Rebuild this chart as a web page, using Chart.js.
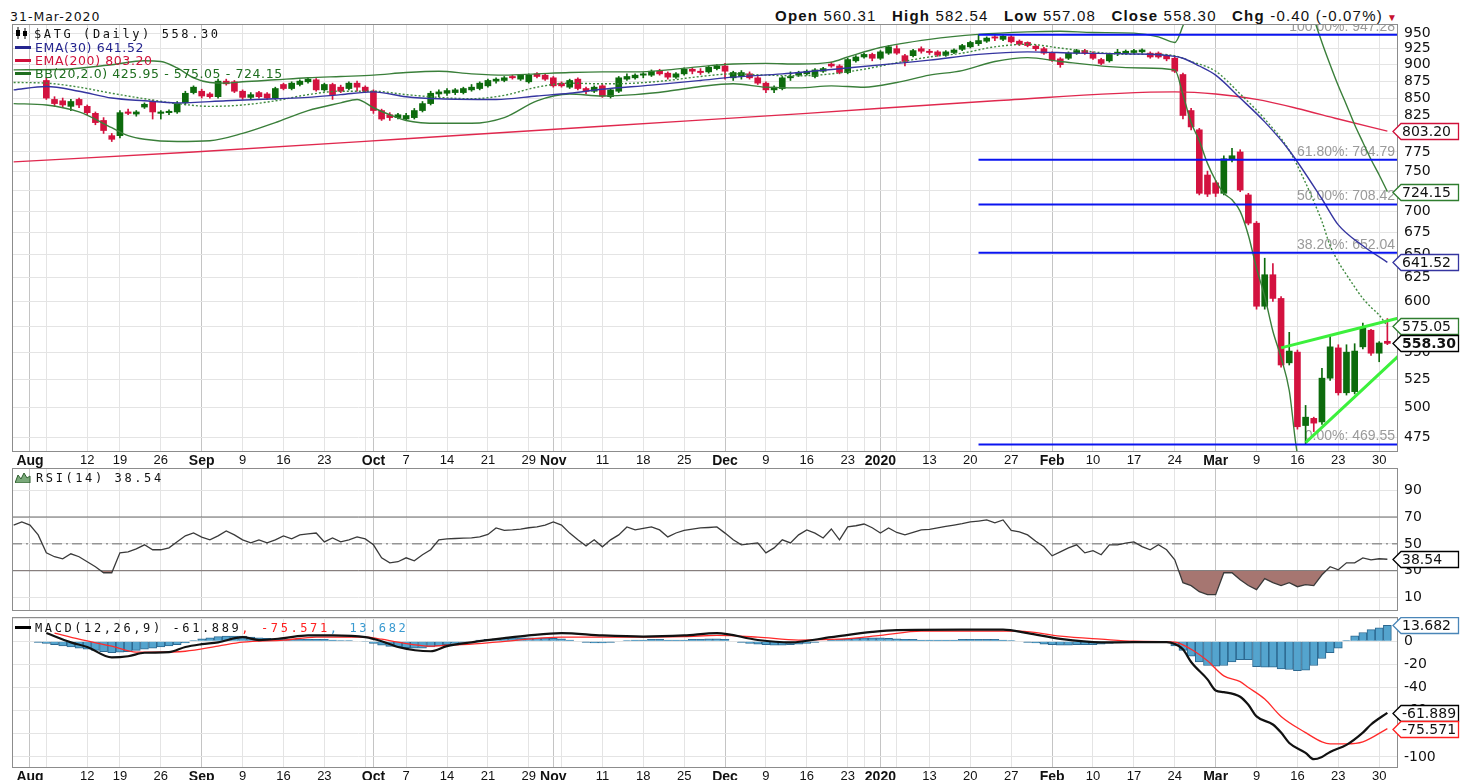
<!DOCTYPE html>
<html lang="en">
<head>
<meta charset="UTF-8">
<title>$ATG (Daily)</title>
<script src="https://cdn.jsdelivr.net/npm/chart.js"></script>
<style>
    body { margin: 0; background: #fff; }
    #page { position: relative; width: 1460px; height: 780px; overflow: hidden; color: #111; }
    #page canvas { position: absolute; left: 0; }
    .txt { position: absolute; white-space: nowrap; line-height: 13px; }
    .mono { font: 12px 'DejaVu Sans Mono', monospace; letter-spacing: 2.6px; }
    .prop { font: 12.5px 'DejaVu Sans', sans-serif; letter-spacing: 0.6px; }
    .dash { display: inline-block; width: 16px; height: 3px; vertical-align: middle; margin: -2px 4px 0 0; }
    svg { vertical-align: middle; margin: -3px 5px 0 0; }
    #stamp { font: 12.5px 'DejaVu Sans', sans-serif; letter-spacing: 1px; left: 10px; top: 9px; }
    #ohlc { font: 15px 'Liberation Sans', Arial, sans-serif; letter-spacing: 1.2px; right: 62px; top: 8px; line-height: 15px; }
    #ohlc b { margin-left: 10px; }
    #ohlc .tri { color: #c8102e; font-size: 10px; margin-left: 4px; }
</style>
</head>
<body>
<div id="page">
    <div class="txt" id="stamp">31-Mar-2020</div>
    <div class="txt" id="ohlc"><b>Open</b> 560.31 <b>High</b> 582.54 <b>Low</b> 557.08 <b>Close</b> 558.30 <b>Chg</b> -0.40 (-0.07%)<span class="tri">&#9660;</span></div>

    <canvas id="priceChart" width="1460" height="444" style="top:24px"></canvas>
    <canvas id="rsiChart" width="1460" height="143" style="top:468px"></canvas>
    <canvas id="macdChart" width="1460" height="163" style="top:617px"></canvas>

    <!-- legends -->
    <div class="txt mono" style="left:15px; top:27px"><svg width="14" height="12" viewBox="0 0 14 12"><path d="M3 0v12M10 1v11" stroke="#000"/><rect x="1" y="3" width="4" height="6"/><rect x="8" y="4" width="4" height="5"/></svg>$ATG (Daily) 558.30</div>
    <div class="txt prop" style="left:15px; top:40px; color:#25258f"><span class="dash" style="background:#25258f"></span>EMA(30) 641.52</div>
    <div class="txt prop" style="left:15px; top:53px; color:#d0103a"><span class="dash" style="background:#d0103a"></span>EMA(200) 803.20</div>
    <div class="txt prop" style="left:15px; top:66px; color:#1f6e1f"><span class="dash" style="background:#1f6e1f"></span>BB(20,2.0) 425.95 - 575.05 - 724.15</div>
    <div class="txt mono" style="left:15px; top:471px"><svg width="16" height="12" viewBox="0 0 16 12"><path d="M0 12L3 4L6 8L9 2L12 7L15 5L15 12Z" fill="#7aa97a" stroke="#2f5f2f"/></svg>RSI(14) 38.54</div>
    <div class="txt mono" style="left:15px; top:621px"><span class="dash" style="background:#000"></span>MACD(12,26,9) -61.889<span style="color:#ff2020">, -75.571</span><span style="color:#3a9ad0">, 13.682</span></div>
</div>

<script>
    // ---- calendar: Athens trading days 30 Jul 2019 .. 31 Mar 2020 ----
    const holidays = ['2019-08-15', '2019-10-28', '2019-12-24', '2019-12-25', '2019-12-26', '2020-01-01', '2020-01-06'];
    const monthLabels = ['2020', 'Feb', 'Mar', 'Apr', 'May', 'Jun', 'Jul', 'Aug', 'Sep', 'Oct', 'Nov', 'Dec'];

    // ---- daily candles (index = trading day, null = no bar) ----
    const open = [null, null, null, null,
        876, 848, 846, 838, 848,  838, 828, 818, 797,  797, 830, 827, 837, 845,  828, 829, 830, 843, 858,
        860, 856, 852, 875, 874,  860, 851, 858, 856, 850,  870, 864, 870, 874, 877,  862, 870, 866, 864, 872, 866,
        860, 832, 826, 822,  820, 822, 832, 842, 856,  857, 858, 858, 862, 864,  868, 875, 876, 882, 878,
        874, 886, 884, 880,  872, 866, 878, 864, 860,  868, 852, 860, 878, 880,  884, 884, 890, 887, 881,
        886, 893, 890, 889, 894,  898, 880, 882, 886, 880,  872, 862, 864, 880, 884,  886, 882, 890, 901, 898,
        888, 906, 912, 916,  910, 918, 925, 914, 914,  925, 921, 920, 915, 919,  924, 928, 933, 937, 944,
        940, 944, 937, 935, 929,  925, 918, 909, 910, 918,  922, 918, 908, 906, 918,  918, 919, 920, 918, 918, 914,
        910, 885, 832, 805, 745, 735,  722, 765, 775, 720, 686,  595, 628, 603, 540, 550,  485, 491, 488, 526, 554,
        513, 514, 555, 571, 549, 560.31];
    const high = [null, null, null, null,
        880, 852, 850, 848, 850,  840, 830, 822, 800,  832, 834, 832, 843, 847,  832, 833, 845, 860, 868,
        863, 858, 878, 878, 876,  862, 858, 860, 858, 866,  872, 874, 877, 880, 879,  872, 872, 869, 874, 875, 868,
        862, 834, 829, 828,  828, 835, 845, 860, 862,  864, 864, 866, 870, 874,  878, 880, 882, 884, 885,
        886, 888, 886, 882,  874, 878, 880, 866, 868,  870, 864, 882, 886, 886,  888, 892, 893, 889, 888,
        895, 895, 894, 898, 900,  902, 890, 891, 889, 882,  874, 868, 882, 889, 890,  892, 894, 896, 904, 900,
        910, 914, 918, 918,  922, 930, 930, 916, 924,  928, 924, 922, 922, 925,  932, 937, 947.28, 944, 946,
        946, 946, 939, 936, 931,  927, 920, 911, 920, 924,  924, 920, 910, 918, 924,  923, 924, 925, 920, 920, 916,
        912, 887, 835, 807, 750, 738,  770, 780, 778, 722, 688,  646, 640, 605, 569, 552,  502, 492, 535, 565, 557,
        557, 558, 578, 572, 560, 582.54];
    const low = [null, null, null, null,
        848, 838, 836, 832, 836,  826, 812, 800, 789,  794, 826, 824, 835, 820,  820, 826, 828, 840, 856,
        850, 850, 850, 869, 858,  848, 848, 850, 848, 848,  862, 862, 868, 872, 860,  860, 848, 858, 862, 860, 858,
        828, 818, 818, 820,  818, 820, 830, 840, 852,  854, 855, 856, 860, 862,  866, 872, 874, 878, 876,
        872, 880, 876, 866,  866, 864, 862, 856, 858,  851, 850, 858, 876, 878,  880, 882, 884, 878, 879,
        884, 886, 885, 887, 892,  878, 876, 878, 878, 870,  858, 858, 862, 876, 882,  884, 880, 888, 896, 886,
        886, 904, 910, 906,  908, 916, 916, 898, 912,  918, 916, 913, 913, 917,  922, 926, 930, 935, 938,
        938, 934, 930, 928, 922,  916, 905, 896, 908, 916,  916, 908, 900, 904, 914,  916, 917, 918, 910, 910, 906,
        888, 820, 805, 720, 718, 718,  720, 762, 724, 684, 592,  592, 600, 536, 538, 482,  469.55, 480, 486, 524, 511,
        511, 512, 553, 547, 541, 557.08];
    const close = [null, null, null, null,
        850, 842, 840, 845, 840,  829, 815, 804, 792,  829, 828, 830, 841, 830,  830, 831, 842, 857, 866,
        853, 852, 875, 871, 860,  851, 855, 852, 850, 864,  864, 872, 875, 878, 862,  870, 855, 860, 872, 866, 860,
        832, 820, 822, 826,  825, 832, 842, 857, 859,  861, 862, 864, 866, 872,  876, 878, 880, 880, 884,
        884, 882, 878, 868,  868, 876, 864, 860, 866,  853, 862, 880, 882, 884,  886, 890, 886, 881, 886,
        893, 890, 888, 896, 898,  890, 888, 888, 880, 872,  862, 866, 880, 882, 888,  890, 892, 894, 898, 888,
        908, 912, 916, 910,  920, 928, 918, 905, 922,  921, 919, 915, 920, 923,  930, 935, 938, 942, 942,
        945, 936, 932, 930, 925,  918, 907, 900, 918, 922,  918, 910, 902, 916, 919,  921, 922, 923, 912, 912, 909,
        890, 825, 809, 722, 721, 722,  766, 770, 726, 686, 595,  628, 603, 538, 551, 484,  492, 487, 526, 555, 513,
        550, 551, 573, 549, 558.7, 558.30];

    // ---- overlays, read at key days (day index, value) ----
    const ema30Day = [0, 4, 8, 12, 16, 20, 26, 32, 36, 40, 44, 48, 52, 59, 64, 68, 72, 78, 84, 88,
        94, 102, 108, 112, 118, 124, 130, 136, 142, 143, 145, 147, 150, 153, 156, 160, 162, 165, 168];
    const ema30Val = [862, 867, 860, 850, 846, 843, 846, 849, 851, 855, 859, 852, 849, 848, 853, 857, 863, 869, 876, 881,
        886, 895, 902, 907, 916, 920, 918, 917, 913, 910, 898, 884, 850, 816, 777, 715, 684, 660, 641.52];

    const ema200Day = [0, 22, 47, 72, 97, 120, 142, 147, 152, 157, 162, 168];
    const ema200Val = [762, 775, 792, 810, 828, 846, 859, 856, 848, 835, 820, 803.2];

    const bbMidDay = [0, 4, 8, 12, 16, 20, 24, 28, 32, 36, 40, 44, 48, 52, 56, 60, 64, 68, 72, 76, 80,
        84, 88, 92, 96, 100, 104, 108, 112, 116, 120, 124, 128, 132, 136, 140, 142, 144, 147, 150, 153,
        156, 158, 159, 160, 161, 162, 163, 164, 165, 166, 167, 168];
    const bbMidVal = [873, 872, 866, 857, 849, 842, 838, 840, 846, 855, 860, 860, 855, 851, 849, 854, 866, 872, 871, 872, 876,
        882, 886, 884, 883, 886, 893, 903, 912, 918, 928, 932, 926, 920, 916, 916, 914, 905, 890, 856, 820,
        777, 735, 712, 688, 660, 642, 628, 615, 603, 594, 586, 575.05];

    const bbUpDay = [0, 6, 12, 16, 18, 20, 22, 24, 26, 28, 32, 36, 40, 44, 48, 52, 56, 60, 64, 68,
        72, 76, 80, 84, 88, 92, 96, 100, 102, 106, 112, 118, 124, 128, 132, 137, 140, 142, 143, 144,
        146, 150, 154, 157, 158, 159, 160, 161, 162, 163, 164, 165, 166, 167, 168];
    const bbUpVal = [892, 893, 900, 906, 905, 895, 880, 873, 872, 874, 877, 880, 882, 884, 888, 890, 886, 884, 886, 888,
        889, 889, 892, 897, 901, 902, 901, 904, 912, 927, 940, 948, 952, 953, 951, 950, 944, 935, 962, 1000,
        1040, 1070, 1080, 1052, 1025, 975, 935, 900, 868, 840, 812, 788, 765, 745, 724.15];

    const bbLowDay = [0, 4, 8, 12, 14, 16, 20, 24, 28, 32, 36, 40, 42, 44, 46, 48, 52, 56, 60, 64,
        68, 72, 76, 80, 84, 88, 92, 96, 100, 104, 108, 112, 116, 120, 124, 128, 134, 138, 142, 143,
        144, 145, 146, 147, 148, 149, 150, 151, 152, 153, 154, 155, 156, 157, 158, 159, 160, 162, 164, 166, 168];
    const bbLowVal = [842, 840, 830, 808, 797, 792, 789, 790, 800, 815, 832, 843, 848, 836, 826, 818, 814, 814, 822, 846,
        856, 853, 855, 860, 867, 871, 866, 865, 868, 866, 873, 884, 891, 905, 911, 905, 897, 895, 892, 855,
        815, 790, 760, 738, 722, 714, 700, 672, 635, 605, 570, 545, 515, 462, 452, 445, 438, 424, 418, 422, 425.95];

    // Fibonacci retracement from the January high to the March low
    const fibStartDay = 118;
    const fibPct = ['100.00%', '61.80%', '50.00%', '38.20%', '0.00%'];
    const fibLevels = [947.28, 764.79, 708.42, 652.04, 469.55];

    // hand drawn wedge (day index, value)
    const trendUpDay = [155, 169.3], trendUpVal = [554, 583];
    const trendLowDay = [158, 169.3], trendLowVal = [471, 546];

    // ---- RSI(14), daily ----
    const rsi = [64, 66.3, 64, 56.7,
        43.3, 40.4, 38.9, 42.6, 40.4,  36.7, 33, 28.5, 28.5,  43.3, 44.1, 46.3, 49.3, 45.6,  45.6, 47, 51.5, 56, 58.1,
        55, 53, 56, 59.6, 56.7,  53, 50.7, 53, 50.7, 53,  55.9, 53.7, 56.7, 57.5, 58.1,  51.5, 54.4, 51.5, 53, 55.2, 53.7,
        49.3, 39.6, 35.9, 36.7,  39.6, 37.4, 41.9, 45.6, 53,  53.7, 54, 54.2, 54.4, 55.2,  57, 61.9, 60, 60.4, 61,
        62, 62.6, 64, 66.3,  64, 58, 53, 48.5, 53,  47.8, 53, 56.7, 62.6, 60.4,  61.5, 62.6, 60.4, 55.2, 58.1,
        60, 61, 61.9, 62.2, 62.6,  58, 53, 49.3, 50, 50.7,  43.3, 47, 53, 50.7, 56.7,  60.4, 58, 54.4, 61.1, 53,
        62.6, 63.5, 64.8, 62,  58.1, 61.9, 58.5, 56.7, 58.5,  60.4, 60.8, 61.9, 63, 64,  65, 66.3, 67, 67.8, 65.6,
        67.8, 60, 58.9, 56.7, 52,  47.8, 41.1, 44, 47, 49.3,  43.3, 45, 41.9, 49.3, 49.3,  50.5, 51.5, 48, 45.6, 49.3, 45.6,
        38.1, 21.1, 18.9, 14.4, 12.2, 12.2,  28.5, 28.5, 23.3, 19, 15.9,  24.1, 21.1, 18.9, 21.1, 18.1,  19.6, 18.9, 27, 33, 30.7,
        35.9, 35.9, 39.6, 38.1, 38.9, 38.54];
    const rsiLevels = [70, 50, 30];

    // ---- MACD(12,26,9) ----
    const macdDay = [4, 7, 9, 12, 14, 16, 19, 21, 23, 25, 28, 30, 33, 36, 39, 43, 45, 47, 51, 53,
        56, 60, 63, 67, 72, 77, 82, 86, 91, 95, 100, 105, 108, 116, 121, 124, 128, 133, 137, 141,
        142, 143, 144, 146, 147, 148, 150, 151, 152, 154, 155, 156, 158, 159, 160, 161, 163, 165, 166, 168];
    const macdVal = [7, -1, -5, -14, -13, -10, -9.5, -5, -2.6, -1, 3.5, 1, 2.6, 5, 5, 3.5, 0, -5, -8.7, -4.3,
        -1, 2.6, 5, 7, 5, 4, 5, 7, 1, -1, 3.5, 8, 9.6, 10, 10, 7, 2, -1, -0.9, -0.9,
        -2.5, -7, -18, -33, -42.6, -44, -48, -55, -65, -72, -79, -88, -96.5, -102, -100, -95.7, -89.6, -79, -72, -61.889];
    const signalDay = [5, 8, 12, 15, 17, 21, 25, 28, 33, 37, 43, 45, 47, 51, 53, 56, 59, 67, 74, 82,
        86, 91, 96, 101, 106, 111, 118, 123, 128, 133, 137, 142, 144, 146, 148, 150, 151, 153, 155, 158,
        160, 161, 163, 165, 168];
    const signalVal = [7, 1.7, -4.3, -9.5, -9.5, -8.7, -4.3, -0.9, 0.9, 3.5, 3.5, 1.7, -0.9, -4.3, -3.5, -2.6, -0.9, 3.5, 3.5, 4,
        5, 3.5, 1, 1.7, 5, 8.7, 8.7, 8.7, 4.3, 1.7, 0, -0.9, -7, -17, -30, -35, -40, -50, -65, -79,
        -87, -88.7, -88.7, -87, -75.571];
    const histogram = [0, 0,
        0, -1, -2, -3, -4, -5, -6, -7, -8, -9,  -10, -9.5, -9, -8, -7, -6, -5, -4, -3, -1.5,
        0.5, 2, 3, 4, 4.5, 4.5, 4.5, 3.5, 3, 2.5,  2, 2, 1.5, 1.5, 1.5, 1.5, 1.5, 1, 0.5, 0.5,
        0, -0.5, -2, -3.5, -4.5, -5, -5.5, -6, -6, -5,  -4, -3, -2, -1, 0, 1, 1.5, 2, 2.5, 3,
        3, 3, 3, 3, 2.5, 2, 1, 0, -1, -1.5,  -1.5, -1, 0, 0.5, 1, 1, 1.5, 1.5, 1, 1,
        1, 1.5, 1.5, 2, 2, 1.5, 0, -1, -2, -2.5,  -3, -3.5, -3.5, -3, -2.5, -2, -1, 0, 1, 1.5,
        2, 2.5, 3, 3, 3, 2.5, 2, 1.5, 1.5, 1,  1, 1, 1, 1, 1.5, 1.5, 1.5, 1.5, 1.5, 1,
        0.5, 0, -1, -1.5, -2.5, -3, -3.5, -3.5, -3, -3,  -3, -2.5, -2, -1.5, -1, -1, -0.5, -0.5, -0.5, -1,
        -4, -8, -13, -18, -21, -21.5, -21, -18, -16, -16,  -22, -22.5, -22.5, -24, -24.5, -25.5, -25, -21, -15, -10,
        -6, 0.5, 4.6, 7.5, 10, 11.5, 13.682];

    // axis ticks and last-value tags
    const priceTicks = [475, 500, 525, 550, 575, 600, 625, 650, 675, 700, 725, 750, 775, 800, 825, 850, 875, 900, 925, 950];
    const rsiTicks = [10, 20, 30, 40, 50, 60, 70, 80, 90, 100];
    const macdTicks = [20, 0, -20, -40, -60, -80, -100];
    const priceTagValues = [803.20, 724.15, 641.52, 575.05, 558.30];
    const macdTagValues = [13.682, -61.889, -75.571];
    const rsiTagValues = [38.54];

    // ---- build the trading-day list and the date ticks ----
    const days = [];
    for (let d = new Date(Date.UTC(2019, 6, 30)); d <= new Date(Date.UTC(2020, 2, 31)); d.setUTCDate(d.getUTCDate() + 1)) {
        const wd = d.getUTCDay();
        if (wd !== 0 && wd !== 6 && !holidays.includes(d.toISOString().slice(0, 10))) days.push(new Date(d));
    }
    const weekKey = d => Math.floor((d.getTime() / 864e5 + 3) / 7);   // monday based week number
    const monthDays = new Set(), weekDays = [];
    for (let j = 1; j < days.length; j++) {
        if (days[j].getUTCMonth() !== days[j - 1].getUTCMonth()) monthDays.add(j);
        if (weekKey(days[j]) !== weekKey(days[j - 1])) weekDays.push(j);
    }
    const tickText = new Map();
    monthDays.forEach(j => tickText.set(j, monthLabels[days[j].getUTCMonth()]));
    weekDays.forEach(j => {
        if (monthDays.has(j)) return;
        const nearMonth = [...monthDays].some(m => Math.abs(m - j) <= 2);
        tickText.set(j, nearMonth ? '' : String(days[j].getUTCDate()));
    });
    const gridDays = [...new Set([...monthDays, ...weekDays])].sort((a, b) => a - b);

    const X_MIN = -0.2, X_MAX = 169.3;
    const AXIS_FONT = { family: 'DejaVu Sans', size: 14 };
    const UP = '#0d6b0d', DOWN = '#d3123f';

    const pts = (xs, ys) => xs.map((x, k) => ({ x, y: ys[k] }));
    const flat = (v) => [{ x: X_MIN, y: v }, { x: X_MAX, y: v }];

    function line(data, color, width, order, extra) {
        return Object.assign({ type: 'line', data, borderColor: color, borderWidth: width, pointRadius: 0,
            fill: false, order, cubicInterpolationMode: 'monotone' }, extra || {});
    }

    function xAxis(showLabels) {
        return {
            type: 'linear', min: X_MIN, max: X_MAX, offset: false,
            afterBuildTicks: s => { s.ticks = gridDays.map(v => ({ value: v })); },
            afterFit: s => { s.height = showLabels; s.paddingLeft = 0; s.paddingRight = 0; },
            border: { display: false },
            grid: { offset: false, drawTicks: false,
                color: c => (c.tick && monthDays.has(c.tick.value)) ? '#c4c4c4' : '#e4e4e4' },
            ticks: {
                display: showLabels > 0, autoSkip: false, maxRotation: 0, padding: 1, color: '#111',
                font: c => (c.tick && monthDays.has(c.tick.value))
                    ? { family: 'Liberation Sans', size: 14, weight: 'bold' }
                    : { family: 'Liberation Sans', size: 13 },
                callback: v => tickText.get(v) || ''
            }
        };
    }

    function yAxis(extra, ticks, label) {
        return Object.assign({
            position: 'right', beginAtZero: false,
            afterBuildTicks: s => { s.ticks = ticks.map(v => ({ value: v })); },
            afterFit: s => { s.width = 62; s.paddingTop = 0; s.paddingBottom = 0; },
            border: { display: false },
            grid: { drawTicks: false, color: '#e4e4e4' },
            ticks: { padding: 6, color: '#111', font: AXIS_FONT, callback: label }
        }, extra);
    }

    // frame around each panel
    const framePlugin = {
        id: 'frame',
        afterDatasetsDraw(chart) {
            const { ctx, chartArea: a } = chart;
            ctx.save();
            ctx.strokeStyle = '#8c8c8c';
            ctx.lineWidth = 1;
            ctx.strokeRect(Math.round(a.left) + 0.5, Math.round(a.top) + 0.5, Math.round(a.width) - 1, Math.round(a.height) - 1);
            ctx.restore();
        }
    };

    // arrow shaped value tags on the right axis
    function tagPlugin(values, colors, digits, boldLast) {
        return {
            id: 'tags',
            afterDraw(chart) {
                const { ctx, chartArea: a } = chart;
                const scale = chart.scales.y;
                ctx.save();
                values.forEach((v, k) => {
                    const y = Math.round(scale.getPixelForValue(v)) + 0.5;
                    const tip = a.right - 5, x1 = a.right + 3, x2 = chart.width - 1.5;
                    ctx.beginPath();
                    ctx.moveTo(tip, y);
                    ctx.lineTo(x1, y - 8);
                    ctx.lineTo(x2, y - 8);
                    ctx.lineTo(x2, y + 8);
                    ctx.lineTo(x1, y + 8);
                    ctx.closePath();
                    ctx.fillStyle = '#fff';
                    ctx.fill();
                    ctx.lineWidth = 1.3;
                    ctx.strokeStyle = colors[k];
                    ctx.stroke();
                    const bold = boldLast && k === values.length - 1;
                    ctx.font = (bold ? 'bold ' : '') + '14px "DejaVu Sans"';
                    ctx.fillStyle = '#111';
                    ctx.textAlign = 'left';
                    ctx.textBaseline = 'middle';
                    ctx.fillText(v.toFixed(digits), x1 + 1, y + 1);
                });
                ctx.restore();
            }
        };
    }

    // grey captions above the Fibonacci lines
    const fibLabelPlugin = {
        id: 'fibLabels',
        beforeDatasetsDraw(chart) {
            const { ctx, chartArea: a } = chart;
            const scale = chart.scales.y;
            ctx.save();
            ctx.font = '14px "Liberation Sans"';
            ctx.fillStyle = '#9a9a9a';
            ctx.textAlign = 'right';
            ctx.textBaseline = 'bottom';
            fibLevels.forEach((v, k) => {
                ctx.fillText(fibPct[k] + ': ' + v.toFixed(2), a.right - 3, scale.getPixelForValue(v) - 1);
            });
            ctx.restore();
        }
    };

    const baseOptions = {
        responsive: false,
        animation: false,
        events: [],
        layout: { padding: { left: 12, right: 0, top: 0, bottom: 0 }, autoPadding: false },
        plugins: { legend: { display: false }, tooltip: { enabled: false } }
    };

    // ---- price panel ----
    const candleDays = days.map((d, j) => j).filter(j => open[j] !== null);
    const candleColors = candleDays.map(j => close[j] >= open[j] ? UP : DOWN);

    const priceSets = [];
    fibLevels.forEach(v => priceSets.push(line([{ x: fibStartDay, y: v }, { x: X_MAX, y: v }], '#0a14f0', 2, 0)));
    priceSets.push(
        line(pts(trendUpDay, trendUpVal), '#3cf03c', 3, 1),
        line(pts(trendLowDay, trendLowVal), '#3cf03c', 3, 1),
        line(pts(ema30Day, ema30Val), '#3535a0', 1.4, 2),
        line(pts(bbMidDay, bbMidVal), '#3f8a3f', 1.4, 3, { borderDash: [2, 2] }),
        line(pts(bbUpDay, bbUpVal), '#3a7f3a', 1.4, 4),
        line(pts(bbLowDay, bbLowVal), '#3a7f3a', 1.4, 4),
        line(pts(ema200Day, ema200Val), '#e0284e', 1.4, 5),
        {
            type: 'bar', order: 6, grouped: false, barThickness: 6, minBarLength: 1,
            data: candleDays.map(j => ({ x: j, y: [open[j], close[j]] })),
            backgroundColor: candleColors
        },
        {
            type: 'bar', order: 7, grouped: false, barThickness: 1,
            data: candleDays.map(j => ({ x: j, y: [low[j], high[j]] })),
            backgroundColor: candleColors
        }
    );

    new Chart(document.getElementById('priceChart'), {
        type: 'line',
        data: { datasets: priceSets },
        options: Object.assign({}, baseOptions, {
            scales: {
                x: xAxis(16),
                y: yAxis({ type: 'logarithmic', min: 463.5, max: 965 }, priceTicks, v => String(v))
            }
        }),
        plugins: [fibLabelPlugin, framePlugin,
            tagPlugin(priceTagValues, ['#d0103a', '#2f7d2f', '#3535a0', '#2f7d2f', '#000'], 2, true)]
    });

    // ---- RSI panel ----
    new Chart(document.getElementById('rsiChart'), {
        type: 'line',
        data: {
            datasets: [
                line(rsi.map((v, j) => ({ x: j, y: v })), '#3a3a3a', 1.3, 0, {
                    cubicInterpolationMode: 'default',
                    fill: { target: { value: 30 }, above: 'rgba(0,0,0,0)', below: 'rgb(166,118,113)' }
                }),
                line(flat(rsiLevels[0]), '#6a6a6a', 1, 1),
                line(flat(rsiLevels[1]), '#6a6a6a', 1, 1, { borderDash: [10, 4, 2, 4] }),
                line(flat(rsiLevels[2]), '#6a6a6a', 1, 1)
            ]
        },
        options: Object.assign({}, baseOptions, {
            scales: {
                x: xAxis(0),
                y: yAxis({ type: 'linear', min: 0, max: 106.5 }, rsiTicks, v => (v % 20 === 10 ? String(v) : ''))
            }
        }),
        plugins: [framePlugin, tagPlugin(rsiTagValues, ['#000'], 2, false)]
    });

    // ---- MACD panel ----
    new Chart(document.getElementById('macdChart'), {
        type: 'line',
        data: {
            datasets: [
                line(pts(macdDay, macdVal), '#111', 2.2, 0),
                line(pts(signalDay, signalVal), '#ff2a2a', 1.3, 1),
                {
                    type: 'bar', order: 2, grouped: false, barThickness: 8,
                    data: histogram.map((v, j) => ({ x: j, y: v })),
                    backgroundColor: 'rgb(84,164,206)', borderColor: 'rgb(44,104,144)', borderWidth: 1
                }
            ]
        },
        options: Object.assign({}, baseOptions, {
            scales: {
                x: xAxis(12),
                y: yAxis({ type: 'linear', min: -109.6, max: 20.9 }, macdTicks, v => (v === 20 ? '' : String(v)))
            }
        }),
        plugins: [framePlugin, tagPlugin(macdTagValues, ['#4a86b8', '#000', '#ff2020'], 3, false)]
    });
</script>
</body>
</html>
